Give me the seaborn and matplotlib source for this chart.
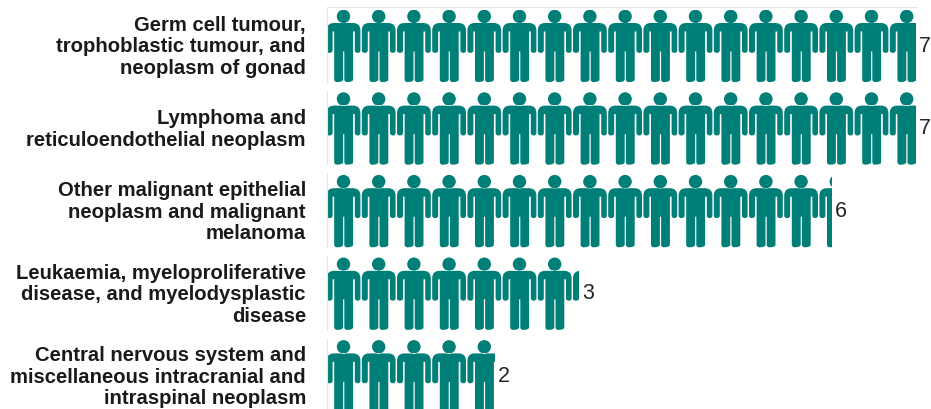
import matplotlib
matplotlib.use("Agg")
import matplotlib.pyplot as plt
import seaborn as sns
import pandas as pd
from matplotlib.path import Path
from matplotlib.transforms import ScaledTranslation

categories = [
    "Germ cell tumour,\ntrophoblastic tumour, and\nneoplasm of gonad",
    "Lymphoma and\nreticuloendothelial neoplasm",
    "Other malignant epithelial\nneoplasm and malignant\nmelanoma",
    "Leukaemia, myeloproliferative\ndisease, and myelodysplastic\ndisease",
    "Central nervous system and\nmiscellaneous intracranial and\nintraspinal neoplasm",
]
values = [7, 7, 6, 3, 2]

TEAL = "#007f78"
W, H = 931, 409
LEFT, RIGHT, TOP = 326.5, 917.0, 7.0
PX_PER_UNIT = 84.2
ROW_PX = 82.6
FIRST_CENTER_PX = 46.0
BAR_PX = 73.0
ICON_PITCH_PX = 35.2

sns.set_theme(style="white")
plt.rcParams["font.family"] = ["Liberation Sans", "DejaVu Sans"]

fig = plt.figure(figsize=(W / 100, H / 100), dpi=100)
ax = fig.add_axes([LEFT / W, 0, (RIGHT - LEFT) / W, (H - TOP) / H])

df = pd.DataFrame({"category": categories, "value": values})
sns.barplot(data=df, x="value", y="category", orient="h", color=TEAL,
            saturation=1, width=BAR_PX / ROW_PX, ax=ax, linewidth=0)

ax.set_xlim(0, (RIGHT - LEFT) / PX_PER_UNIT)
ax.set_ylim((H - FIRST_CENTER_PX) / ROW_PX, (TOP - FIRST_CENTER_PX) / ROW_PX)
ax.set_xlabel("")
ax.set_ylabel("")
ax.set_xticks([])
ax.tick_params(axis="y", length=0, pad=14.8)
label_shift = ScaledTranslation(0, 1.6 / 72, fig.dpi_scale_trans)
for lab in ax.get_yticklabels():
    lab.set_fontsize(14.6)
    lab.set_fontweight("bold")
    lab.set_color("#1a1a1a")
    lab.set_linespacing(1.16)
    lab.set_multialignment("right")
    lab.set_transform(lab.get_transform() + label_shift)

for s in ["right", "bottom", "left"]:
    ax.spines[s].set_visible(False)
ax.spines["top"].set_color("#e6e6e6")
ax.spines["top"].set_linewidth(0.8)

# Person pictogram outline, in pixels of one icon cell; scaled to a unit cell below.
M, L, C, Z = Path.MOVETO, Path.LINETO, Path.CURVE3, Path.CLOSEPOLY
body_verts = [
    (0.1, 21), (0.1, 41), (0.1, 43.4), (3, 43.4), (6.1, 43.4), (6.1, 41),
    (6.1, 22), (7.7, 22), (7.7, 70), (7.7, 72.6), (10.5, 72.6), (16.6, 72.6), (16.6, 70),
    (16.6, 42), (17.8, 42), (17.8, 70), (17.8, 72.6), (20.5, 72.6), (26.6, 72.6), (26.6, 70),
    (26.6, 22), (28.3, 22), (28.3, 41), (28.3, 43.4), (31.2, 43.4), (33.9, 43.4), (33.9, 41),
    (33.9, 21), (33.9, 13.5), (26.5, 13.5), (7.5, 13.5), (0.1, 13.5), (0.1, 21), (0.1, 21),
]
body_codes = [M, L, C, C, C, C, L, L, L, C, C, C, C, L, L, L, C, C, C, C,
              L, L, L, C, C, C, C, L, C, C, L, C, C, Z]
body_path = Path([(x / ICON_PITCH_PX, y / BAR_PX) for x, y in body_verts], body_codes)
unit = Path.circle(center=(0, 0), radius=1)
head_path = Path(unit.vertices * [6.7 / ICON_PITCH_PX, 6.7 / BAR_PX]
                 + [17.0 / ICON_PITCH_PX, 6.9 / BAR_PX], unit.codes)
icon = Path.make_compound_path(body_path, head_path)

pitch = ICON_PITCH_PX / PX_PER_UNIT
row_top_gap = 38.4 / ROW_PX
for bar, val in zip(ax.patches, values):
    y0, h = bar.get_y(), bar.get_height()
    tiles = [Path(icon.vertices * [pitch, h] + [i * pitch, y0], icon.codes)
             for i in range(int(val / pitch) + 1)]
    bar.set_clip_path(Path.make_compound_path(*tiles), transform=ax.transData)
    center = y0 + h / 2
    ax.vlines(0, center - row_top_gap, y0 + h, color="#e6e6e6", linewidth=0.8, clip_on=False)
    ax.annotate(str(val), (val, center), xytext=(2.5, 0), textcoords="offset points",
                va="center", ha="left", fontsize=15.5, color="#262626", annotation_clip=False)

fig.savefig("out.png", dpi=100)
